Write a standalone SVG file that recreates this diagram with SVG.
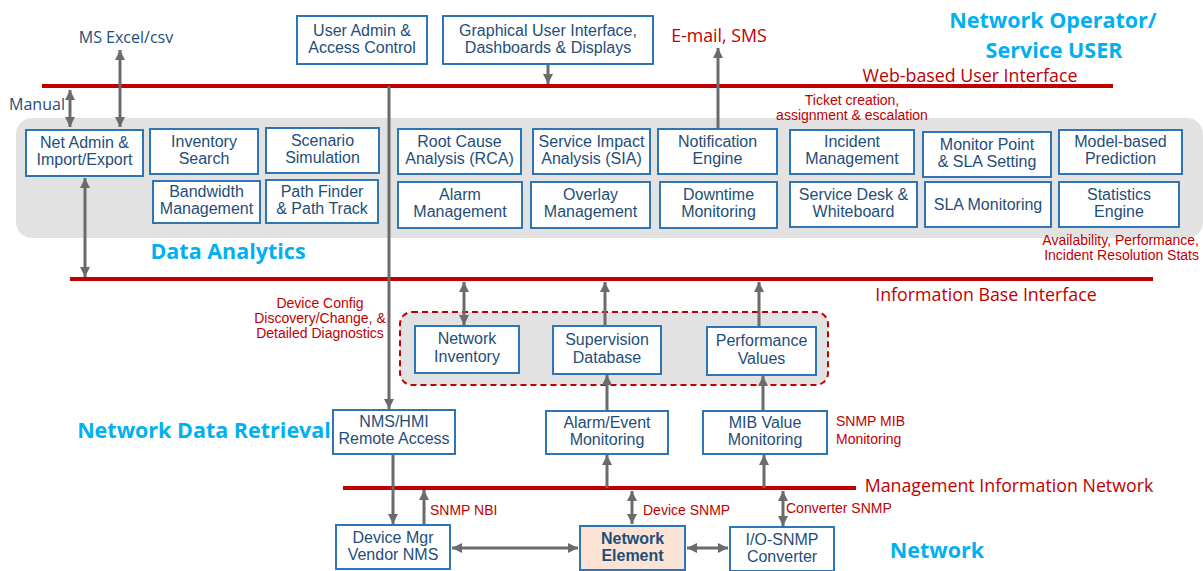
<svg xmlns="http://www.w3.org/2000/svg" width="1203" height="571" viewBox="0 0 1203 571">
<style>
  text { font-family: "Open Sans", "Liberation Sans", sans-serif; }
  .box { fill: #ffffff; stroke: #2E75B6; stroke-width: 2; }
  .ne { fill: #FBE3D5; stroke: #2E75B6; stroke-width: 2; }
  .t { font-family: "Liberation Sans", Arial, sans-serif; font-size: 16px; fill: #1F4E79; text-anchor: middle; }
  .tb { font-family: "Liberation Sans", Arial, sans-serif; font-size: 16px; fill: #1F4E79; text-anchor: middle; font-weight: bold; }
  .bus { stroke: #C00000; stroke-width: 4; }
  .rl { font-size: 17.8px; fill: #C00000; }
  .rs { font-family: "Liberation Sans", Arial, sans-serif; font-size: 14px; fill: #C00000; }
  .cyan { font-size: 21.5px; font-weight: bold; fill: #00B0F0; }
  .blue { font-size: 16px; fill: #1F4E79; }
  .ar { stroke: #6B6B6B; stroke-width: 3; fill: none; }
  .a1 { marker-end: url(#ah); }
  .a2 { marker-end: url(#ah); marker-start: url(#ah); }
</style>
<defs>
  <marker id="ah" viewBox="0 0 10 10" refX="10" refY="5" markerWidth="10" markerHeight="10" markerUnits="userSpaceOnUse" orient="auto-start-reverse">
    <path d="M0,0 L10,5 L0,10 z" fill="#6B6B6B"/>
  </marker>
</defs>

<!-- background panels -->
<rect x="16" y="118" width="1187" height="120" rx="16" fill="#E2E2E2"/>
<rect x="400" y="312" width="428" height="73" rx="12" fill="#E2E2E2" stroke="#C00000" stroke-width="2" stroke-dasharray="6,4"/>

<!-- buses -->
<g id="buses">
  <line class="bus" x1="42" y1="86" x2="1113" y2="86"/>
  <line class="bus" x1="70" y1="279" x2="1153" y2="279"/>
  <line class="bus" x1="343" y1="488" x2="856" y2="488"/>
</g>

<!-- labels -->
<g id="labels">
  <text class="cyan" x="1053" y="28" text-anchor="middle">Network Operator/</text>
  <text class="cyan" x="1054" y="58" text-anchor="middle">Service USER</text>
  <text class="cyan" x="228" y="259" text-anchor="middle">Data Analytics</text>
  <text class="cyan" x="204" y="438" text-anchor="middle">Network Data Retrieval</text>
  <text class="cyan" x="937" y="558" text-anchor="middle">Network</text>
  <text class="rl" x="970" y="82" text-anchor="middle">Web-based User Interface</text>
  <text class="rl" x="986" y="301" text-anchor="middle">Information Base Interface</text>
  <text class="rl" x="1009" y="492" text-anchor="middle">Management Information Network</text>
  <text class="rl" x="719" y="42" text-anchor="middle">E-mail, SMS</text>
  <text class="blue" x="126" y="43" text-anchor="middle">MS Excel/csv</text>
  <text class="blue" x="37" y="110" text-anchor="middle">Manual</text>
  <text class="rs" text-anchor="middle"><tspan x="852" y="105">Ticket creation,</tspan><tspan x="852" y="120">assignment &amp; escalation</tspan></text>
  <text class="rs" text-anchor="end"><tspan x="1199" y="245">Availability, Performance,</tspan><tspan x="1199" y="260">Incident Resolution Stats</tspan></text>
  <text class="rs" text-anchor="middle"><tspan x="320" y="308">Device Config</tspan><tspan x="320" y="323">Discovery/Change, &amp;</tspan><tspan x="320" y="338">Detailed Diagnostics</tspan></text>
  <text class="rs"><tspan x="836" y="426">SNMP MIB</tspan><tspan x="836" y="444">Monitoring</tspan></text>
  <text class="rs" x="430" y="515">SNMP NBI</text>
  <text class="rs" x="643" y="515">Device SNMP</text>
  <text class="rs" x="786" y="513">Converter SNMP</text>
</g>

<!-- connectors -->
<g id="connectors">
  <line class="ar a2" x1="120" y1="50" x2="120" y2="127"/>
  <line class="ar a2" x1="70" y1="90" x2="70" y2="127"/>
  <line class="ar a1" x1="548" y1="65" x2="548" y2="84"/>
  <line class="ar a1" x1="718" y1="128" x2="718" y2="48"/>
  <line class="ar a1" x1="389" y1="86" x2="389" y2="409"/>
  <line class="ar a2" x1="85" y1="178" x2="85" y2="277"/>
  <line class="ar a2" x1="464" y1="282" x2="464" y2="325"/>
  <line class="ar a1" x1="605" y1="326" x2="605" y2="282"/>
  <line class="ar a1" x1="759" y1="327" x2="759" y2="282"/>
  <line class="ar a1" x1="607" y1="410" x2="607" y2="375"/>
  <line class="ar a1" x1="763" y1="410" x2="763" y2="376"/>
  <line class="ar a1" x1="393" y1="455" x2="393" y2="524"/>
  <line class="ar a1" x1="424" y1="524" x2="424" y2="490"/>
  <line class="ar a1" x1="607" y1="488" x2="607" y2="455"/>
  <line class="ar a1" x1="764" y1="488" x2="764" y2="455"/>
  <line class="ar a2" x1="632" y1="491" x2="632" y2="524"/>
  <line class="ar a2" x1="783" y1="491" x2="783" y2="526"/>
  <line class="ar a2" x1="452" y1="548" x2="578" y2="548"/>
  <line class="ar a2" x1="687" y1="548" x2="728" y2="548"/>
</g>

<!-- nodes -->
<g id="user-admin"><rect class="box" x="297" y="16" width="130" height="48"/><text class="t"><tspan x="362" y="36">User Admin &amp;</tspan><tspan x="362" y="53">Access Control</tspan></text></g>
<g id="gui"><rect class="box" x="443" y="16" width="210" height="48"/><text class="t"><tspan x="548" y="36">Graphical User Interface,</tspan><tspan x="548" y="53">Dashboards &amp; Displays</tspan></text></g>

<g id="net-admin"><rect class="box" x="26" y="130" width="117" height="46"/><text class="t"><tspan x="84.5" y="148">Net Admin &amp;</tspan><tspan x="84.5" y="165">Import/Export</tspan></text></g>
<g id="inventory-search"><rect class="box" x="150" y="129" width="108" height="45"/><text class="t"><tspan x="204" y="147">Inventory</tspan><tspan x="204" y="164">Search</tspan></text></g>
<g id="scenario"><rect class="box" x="266" y="128" width="113" height="45"/><text class="t"><tspan x="322.5" y="146">Scenario</tspan><tspan x="322.5" y="163">Simulation</tspan></text></g>
<g id="bandwidth"><rect class="box" x="153" y="181" width="107" height="42"/><text class="t"><tspan x="206.5" y="197">Bandwidth</tspan><tspan x="206.5" y="214">Management</tspan></text></g>
<g id="path-finder"><rect class="box" x="266" y="180" width="112" height="43"/><text class="t"><tspan x="322" y="197">Path Finder</tspan><tspan x="322" y="214">&amp; Path Track</tspan></text></g>

<g id="rca"><rect class="box" x="398" y="129" width="123" height="45"/><text class="t"><tspan x="459.5" y="147">Root Cause</tspan><tspan x="459.5" y="164">Analysis (RCA)</tspan></text></g>
<g id="sia"><rect class="box" x="533" y="129" width="117" height="45"/><text class="t"><tspan x="591.5" y="147">Service Impact</tspan><tspan x="591.5" y="164">Analysis (SIA)</tspan></text></g>
<g id="notification"><rect class="box" x="658" y="129" width="119" height="45"/><text class="t"><tspan x="717.5" y="147">Notification</tspan><tspan x="717.5" y="164">Engine</tspan></text></g>
<g id="alarm-mgmt"><rect class="box" x="398" y="182" width="124" height="46"/><text class="t"><tspan x="460" y="200">Alarm</tspan><tspan x="460" y="217">Management</tspan></text></g>
<g id="overlay"><rect class="box" x="531" y="182" width="119" height="46"/><text class="t"><tspan x="590.5" y="200">Overlay</tspan><tspan x="590.5" y="217">Management</tspan></text></g>
<g id="downtime"><rect class="box" x="660" y="182" width="117" height="46"/><text class="t"><tspan x="718.5" y="200">Downtime</tspan><tspan x="718.5" y="217">Monitoring</tspan></text></g>

<g id="incident"><rect class="box" x="790" y="130" width="124" height="44"/><text class="t"><tspan x="852" y="147">Incident</tspan><tspan x="852" y="164">Management</tspan></text></g>
<g id="monitor-point"><rect class="box" x="923" y="132" width="128" height="45"/><text class="t"><tspan x="987" y="150">Monitor Point</tspan><tspan x="987" y="167">&amp; SLA Setting</tspan></text></g>
<g id="model-based"><rect class="box" x="1059" y="130" width="123" height="44"/><text class="t"><tspan x="1120.5" y="147">Model-based</tspan><tspan x="1120.5" y="164">Prediction</tspan></text></g>
<g id="service-desk"><rect class="box" x="790" y="182" width="127" height="45"/><text class="t"><tspan x="853.5" y="200">Service Desk &amp;</tspan><tspan x="853.5" y="217">Whiteboard</tspan></text></g>
<g id="sla-monitoring"><rect class="box" x="925" y="182" width="126" height="45"/><text class="t"><tspan x="988" y="210">SLA Monitoring</tspan></text></g>
<g id="statistics"><rect class="box" x="1059" y="182" width="120" height="45"/><text class="t"><tspan x="1119" y="200">Statistics</tspan><tspan x="1119" y="217">Engine</tspan></text></g>

<g id="network-inventory"><rect class="box" x="415" y="326" width="104" height="47"/><text class="t"><tspan x="467" y="344">Network</tspan><tspan x="467" y="362">Inventory</tspan></text></g>
<g id="supervision-db"><rect class="box" x="553" y="326" width="108" height="48"/><text class="t"><tspan x="607" y="345">Supervision</tspan><tspan x="607" y="363">Database</tspan></text></g>
<g id="performance-values"><rect class="box" x="707" y="327" width="109" height="48"/><text class="t"><tspan x="761.5" y="346">Performance</tspan><tspan x="761.5" y="364">Values</tspan></text></g>

<g id="nms-hmi"><rect class="box" x="333" y="410" width="122" height="44"/><text class="t"><tspan x="394" y="427">NMS/HMI</tspan><tspan x="394" y="444">Remote Access</tspan></text></g>
<g id="alarm-event"><rect class="box" x="546" y="411" width="122" height="43"/><text class="t"><tspan x="607" y="428">Alarm/Event</tspan><tspan x="607" y="445">Monitoring</tspan></text></g>
<g id="mib-value"><rect class="box" x="703" y="411" width="124" height="43"/><text class="t"><tspan x="765" y="428">MIB Value</tspan><tspan x="765" y="445">Monitoring</tspan></text></g>

<g id="device-mgr"><rect class="box" x="336" y="525" width="114" height="44"/><text class="t"><tspan x="393" y="543">Device Mgr</tspan><tspan x="393" y="560">Vendor NMS</tspan></text></g>
<g id="network-element"><rect class="ne" x="580" y="526" width="105" height="44"/><text class="tb"><tspan x="632.5" y="544">Network</tspan><tspan x="632.5" y="561">Element</tspan></text></g>
<g id="io-converter"><rect class="box" x="730" y="527" width="104" height="44"/><text class="t"><tspan x="782" y="545">I/O-SNMP</tspan><tspan x="782" y="562">Converter</tspan></text></g>
</svg>
